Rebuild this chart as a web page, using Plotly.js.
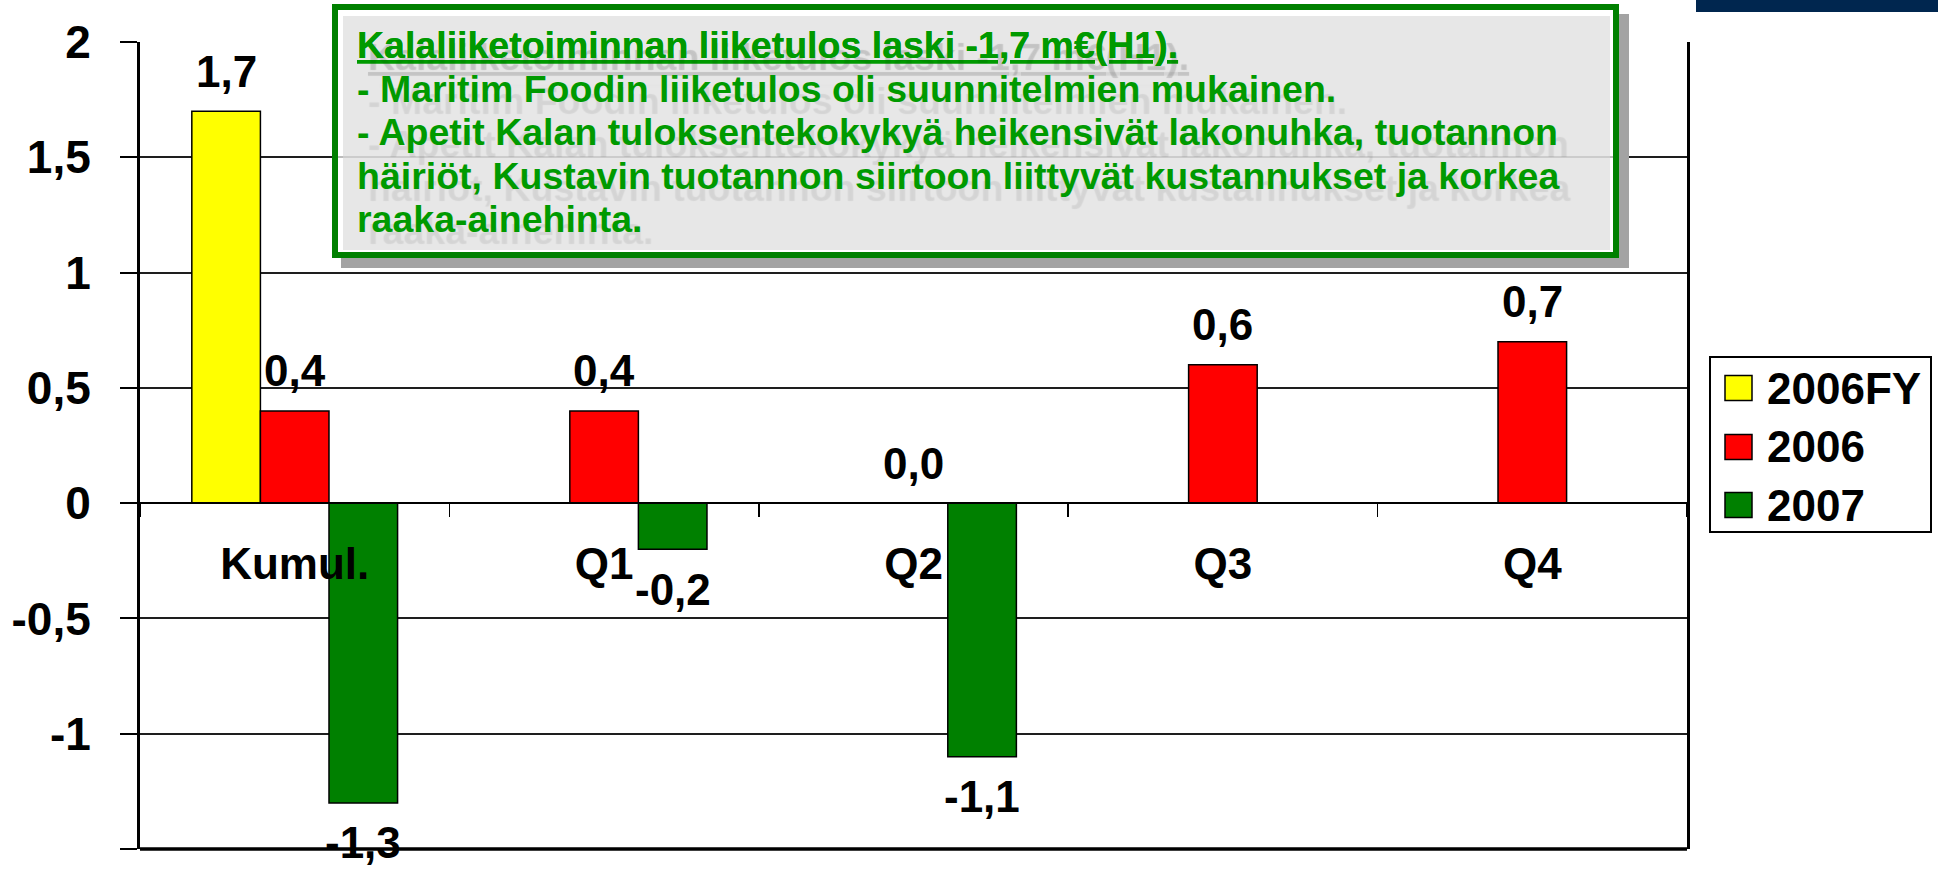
<!DOCTYPE html>
<html><head><meta charset="utf-8">
<script src="https://cdn.plot.ly/plotly-3.0.1.min.js"></script>
<style>html,body{margin:0;padding:0;background:#fff;} #chart{width:1938px;height:872px;}</style>
</head><body><div id="chart"></div>
<script>
// ---- data ----
const categories = ['Kumul.', 'Q1', 'Q2', 'Q3', 'Q4'];
const seriesNames = ['2006FY', '2006', '2007'];
const values2006FY = [1.7, null, null, null, null];
const values2006 = [0.4, 0.4, 0.0, 0.6, 0.7];
const values2007 = [-1.3, -0.2, -1.1, null, null];
const yTickValues = [-1.5, -1, -0.5, 0, 0.5, 1, 1.5, 2];
const yTickLabels = ['-1,5', '-1', '-0,5', '0', '0,5', '1', '1,5', '2'];
const noteLines = [
  '<u>Kalaliiketoiminnan liiketulos laski -1,7 m€(H1).</u>',
  '- Maritim Foodin liiketulos oli suunnitelmien mukainen.',
  '- Apetit Kalan tuloksentekokykyä heikensivät lakonuhka, tuotannon',
  'häiriöt, Kustavin tuotannon siirtoon liittyvät kustannukset ja korkea',
  'raaka-ainehinta.'
];

// ---- style ----
const seriesColors = ['#ffff00', '#ff0000', '#008000'];
const FONT = 'Liberation Sans, Arial, sans-serif';
const PL = 140, PR = 1687, PT = 42, PB = 849;
const px2x = p => (p - PL) / (PR - PL);
const py2y = p => (PB - p) / (PB - PT);
const BARGAP = 0.335;

const seriesValues = [values2006FY, values2006, values2007];
const nS = seriesValues.length;
const barW = (1 - BARGAP) / nS;
const fmt = v => v.toFixed(1).replace('.', ',');

const traces = seriesValues.map((vals, s) => ({
  type: 'bar',
  name: seriesNames[s],
  x: categories,
  y: vals,
  marker: { color: seriesColors[s], line: { color: '#000', width: 1.5 } },
  showlegend: false,
  hoverinfo: 'skip'
}));

const annotations = [];
seriesValues.forEach((vals, s) => {
  vals.forEach((v, i) => {
    if (v === null) return;
    annotations.push({
      xref: 'x', yref: 'y', x: i + (s - (nS - 1) / 2) * barW, y: v,
      text: fmt(v), showarrow: false, xanchor: 'center', yanchor: 'middle',
      yshift: v >= 0 ? 40 : -40,
      font: { family: FONT, size: 44, color: '#000', weight: 'bold' }
    });
  });
});

// note box text
const noteCenters = [45, 88.5, 132, 175.5, 219];
noteLines.forEach((t, k) => {
  annotations.push({
    xref: 'paper', yref: 'paper', x: px2x(355), y: py2y(noteCenters[k]),
    xanchor: 'left', yanchor: 'middle', showarrow: false, text: t,
    font: { family: FONT, size: 37.5, color: '#009a00', weight: 'bold',
            shadow: '11px 12px 1px rgba(0,0,0,0.08)' }
  });
});

// manual legend
const legendRows = [388, 447, 505];
const shapes = [];
seriesNames.forEach((n, s) => {
  shapes.push({ type: 'rect', xref: 'paper', yref: 'paper',
    x0: px2x(1725), x1: px2x(1752), y0: py2y(legendRows[s] + 12.5), y1: py2y(legendRows[s] - 12.5),
    fillcolor: seriesColors[s], line: { color: '#000', width: 1.5 } });
  annotations.push({ xref: 'paper', yref: 'paper', x: px2x(1765), y: py2y(legendRows[s]),
    xanchor: 'left', yanchor: 'middle', showarrow: false, text: n,
    font: { family: FONT, size: 44, color: '#000', weight: 'bold' } });
});
shapes.push({ type: 'rect', xref: 'paper', yref: 'paper',
  x0: px2x(1710), x1: px2x(1931), y0: py2y(532), y1: py2y(357),
  fillcolor: 'rgba(0,0,0,0)', line: { color: '#000', width: 2 } });

// bottom frame line (thicker)
shapes.push({ type: 'line', xref: 'paper', yref: 'paper', x0: 0, x1: 1, y0: 0, y1: 0,
  line: { color: '#000', width: 3.5 } });

// note box shadow + box
shapes.push({ type: 'path', xref: 'paper', yref: 'paper',
  path: `M${px2x(1619)},${py2y(14)} L${px2x(1629)},${py2y(14)} L${px2x(1629)},${py2y(268)} L${px2x(341)},${py2y(268)} L${px2x(341)},${py2y(258)} L${px2x(1619)},${py2y(258)} Z`,
  fillcolor: '#a3a3a3', line: { width: 0 } });
shapes.push({ type: 'rect', xref: 'paper', yref: 'paper',
  x0: px2x(335), x1: px2x(1616), y0: py2y(255), y1: py2y(7),
  fillcolor: 'rgba(255,255,255,0.7)', line: { color: '#008000', width: 6 } });
shapes.push({ type: 'rect', xref: 'paper', yref: 'paper',
  x0: px2x(343), x1: px2x(1610), y0: py2y(250), y1: py2y(16),
  fillcolor: 'rgba(215,215,215,0.6)', line: { width: 0 } });

// navy corner bar
shapes.push({ type: 'rect', xref: 'paper', yref: 'paper',
  x0: px2x(1696), x1: px2x(1938), y0: py2y(12), y1: py2y(0),
  fillcolor: '#00264f', line: { width: 0 } });

const layout = {
  width: 1938, height: 872,
  margin: { l: PL, r: 1938 - PR, t: PT, b: 872 - PB, pad: 0 },
  paper_bgcolor: '#fff', plot_bgcolor: '#fff',
  barmode: 'group', bargap: BARGAP, bargroupgap: 0,
  showlegend: false,
  xaxis: {
    type: 'category', categoryorder: 'array', categoryarray: categories,
    range: [-0.5, categories.length - 0.5],
    anchor: 'free', position: 1.5 / 3.5,
    showline: true, linecolor: '#000', linewidth: 2,
    ticks: 'outside', tickson: 'boundaries', ticklen: 13, tickwidth: 1.5, tickcolor: '#000',
    showgrid: false, zeroline: false,
    tickfont: { family: FONT, size: 44, color: '#000', weight: 'bold' },
    ticklabelstandoff: 22, automargin: false, fixedrange: true
  },
  yaxis: {
    range: [-1.5, 2], tickvals: yTickValues, ticktext: yTickLabels,
    showgrid: true, gridcolor: '#1e1e1e', gridwidth: 2,
    showline: true, linecolor: '#000', linewidth: 3, mirror: true,
    ticks: 'outside', ticklen: 17, tickwidth: 2, tickcolor: '#000',
    zeroline: true, zerolinecolor: '#000', zerolinewidth: 2,
    tickfont: { family: FONT, size: 46, color: '#000', weight: 'bold' },
    ticklabelstandoff: 20, automargin: false, fixedrange: true
  },
  shapes: shapes,
  annotations: annotations
};

Plotly.newPlot('chart', traces, layout, { displayModeBar: false, staticPlot: true });
</script>
</body></html>
